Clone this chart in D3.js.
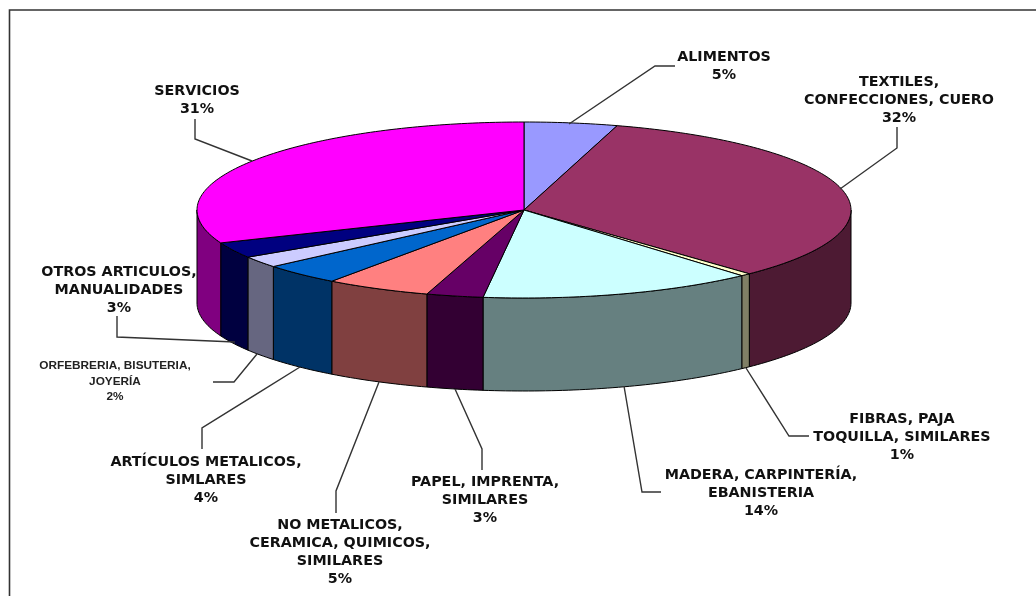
<!DOCTYPE html>
<html>
<head>
<meta charset="utf-8">
<script src="https://cdnjs.cloudflare.com/ajax/libs/d3/7.8.5/d3.min.js"></script>
<style>
  html, body { margin: 0; padding: 0; background: #fff; overflow: hidden; }
  svg { display: block; filter: blur(0.4px); }
</style>
</head>
<body>
<svg id="chart" width="1036" height="596"></svg>
<script>
// data, clockwise from 12 o'clock
const categories = [
  'ALIMENTOS', 'TEXTILES, CONFECCIONES, CUERO', 'FIBRAS, PAJA TOQUILLA, SIMILARES',
  'MADERA, CARPINTERÍA, EBANISTERIA', 'PAPEL, IMPRENTA, SIMILARES',
  'NO METALICOS, CERAMICA, QUIMICOS, SIMILARES', 'ARTÍCULOS METALICOS, SIMLARES',
  'ORFEBRERIA, BISUTERIA, JOYERÍA', 'OTROS ARTICULOS, MANUALIDADES', 'SERVICIOS'
];
const values = [4.6, 33.3, 0.5, 13.6, 2.8, 5.2, 3.9, 2.1, 2.9, 31.1];
const colors = ['#9999ff', '#993366', '#ffffcc', '#ccffff', '#660066', '#ff8080', '#0066cc', '#ccccff', '#000080', '#ff00ff'];
const labelLines = [
  ['ALIMENTOS', '5%'],
  ['TEXTILES,', 'CONFECCIONES, CUERO', '32%'],
  ['FIBRAS, PAJA', 'TOQUILLA, SIMILARES', '1%'],
  ['MADERA, CARPINTERÍA,', 'EBANISTERIA', '14%'],
  ['PAPEL, IMPRENTA,', 'SIMILARES', '3%'],
  ['NO METALICOS,', 'CERAMICA, QUIMICOS,', 'SIMILARES', '5%'],
  ['ARTÍCULOS METALICOS,', 'SIMLARES', '4%'],
  ['ORFEBRERIA, BISUTERIA,', 'JOYERÍA', '2%'],
  ['OTROS ARTICULOS,', 'MANUALIDADES', '3%'],
  ['SERVICIOS', '31%']
];

// label placement, first line centre, and leader polylines
const labelPos = [
  [724, 56], [899, 81], [902, 418], [761, 474], [485, 481],
  [340, 524], [206, 461], [115, 365], [119, 271], [197, 90]
];
const leaders = [
  [[569, 124], [655, 66], [675, 66]],
  [[840, 189], [897, 148], [897, 127]],
  [[746, 368], [789, 436], [809, 436]],
  [[624, 386], [642, 492], [661, 492]],
  [[455, 389], [482, 449], [482, 470]],
  [[379, 382], [336, 491], [336, 513]],
  [[300, 367], [202, 428], [202, 449]],
  [[257, 354], [234, 382], [213, 382]],
  [[235, 342], [117, 337], [117, 316]],
  [[252, 161], [195, 139], [195, 119]]
];

const svg = d3.select('#chart');
const cx = 524, cy = 210, rx = 327, ry = 88, depth = 93;

// tilted pie: unit circle -> squashed ellipse
const px = d3.scaleLinear().domain([-1, 1]).range([cx - rx, cx + rx]);
const py = d3.scaleLinear().domain([-1, 1]).range([cy + ry, cy - ry]);

const pie = d3.pie().sort(null).value(d => d);
const arcs = pie(values);
const line = d3.line();

const STEP = Math.PI / 180;
function rim(a0, a1, drop) {
  const n = Math.max(1, Math.ceil((a1 - a0) / STEP));
  return d3.range(n + 1).map(i => {
    const a = a0 + (a1 - a0) * i / n;
    return [px(Math.sin(a)), py(Math.cos(a)) + drop];
  });
}
const shade = c => { const r = d3.rgb(c); return d3.rgb(r.r * 0.5, r.g * 0.5, r.b * 0.5).formatHex(); };

// frame, open on the right and bottom like the source crop
svg.append('path')
  .attr('d', 'M1036,10H9.5V596')
  .attr('fill', 'none')
  .attr('stroke', '#333')
  .attr('stroke-width', 1.6);

// side walls, only the front half shows
arcs.forEach((d, i) => {
  const a0 = Math.max(d.startAngle, Math.PI / 2);
  const a1 = Math.min(d.endAngle, Math.PI * 1.5);
  if (a1 <= a0) return;
  const pts = rim(a0, a1, 0).concat(rim(a0, a1, depth).reverse());
  svg.append('path')
    .attr('d', line(pts) + 'Z')
    .attr('fill', shade(colors[i]))
    .attr('stroke', '#000')
    .attr('stroke-width', 1)
    .attr('stroke-linejoin', 'round');
});

// top face
svg.append('g').selectAll('path')
  .data(arcs)
  .join('path')
  .attr('d', d => line([[cx, cy]].concat(rim(d.startAngle, d.endAngle, 0))) + 'Z')
  .attr('fill', (d, i) => colors[i])
  .attr('stroke', '#000')
  .attr('stroke-width', 1)
  .attr('stroke-linejoin', 'round');

// leaders
svg.append('g').selectAll('path')
  .data(leaders)
  .join('path')
  .attr('d', d => line(d))
  .attr('fill', 'none')
  .attr('stroke', '#333')
  .attr('stroke-width', 1.4);

// labels
labelLines.forEach((lines, i) => {
  const small = i === 7;
  const t = svg.append('text')
    .attr('text-anchor', 'middle')
    .attr('font-family', small ? '"Liberation Sans", Arial, sans-serif' : '"DejaVu Sans", Verdana, sans-serif')
    .attr('font-weight', 'bold')
    .attr('font-size', small ? 11.8 : 14.3)
    .attr('fill', small ? '#222' : '#111');
  lines.forEach((s, j) => {
    t.append('tspan')
      .attr('x', labelPos[i][0])
      .attr('y', labelPos[i][1] + j * (small ? 15.5 : 18) + (small ? 4 : 5))
      .text(s);
  });
});
</script>
</body>
</html>
